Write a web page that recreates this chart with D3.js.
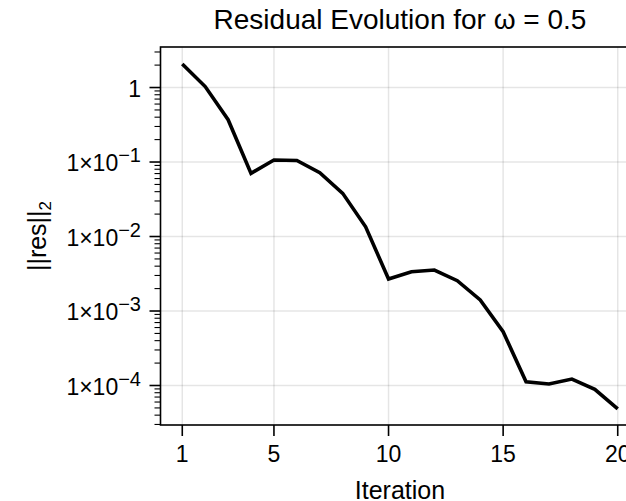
<!DOCTYPE html>
<html>
<head>
<meta charset="utf-8">
<script src="https://cdn.jsdelivr.net/npm/d3@7"></script>
<style>
html,body{margin:0;padding:0;background:#fff;}
svg{display:block;font-family:"Liberation Sans",Arial,Helvetica,sans-serif;}
</style>
</head>
<body>
<svg id="chart" width="626" height="501"></svg>
<script>
const iterations = [1,2,3,4,5,6,7,8,9,10,11,12,13,14,15,16,17,18,19,20];
const residuals = [2.07,1.03,0.37,0.0705,0.1064,0.105,0.0718,0.038,0.0135,0.00269,0.00337,0.00355,0.00255,0.00141,0.000527,0.0001125,0.0001047,0.0001222,0.0000889,0.0000484];
const xTicks = [1,5,10,15,20];
const yTicks = [1,1e-1,1e-2,1e-3,1e-4];
const yTickExps = [0,-1,-2,-3,-4];
const titleText = "Residual Evolution for ω = 0.5";
const xLabel = "Iteration";

const svg = d3.select("#chart");
const L = 160.5, R = 639.5, T = 47, B = 425;
const x = d3.scaleLinear().domain([0.05, 20.95]).range([L, R]);
const y = d3.scaleLog().domain([2.95e-5, 3.5]).range([B, T]);

// grid
const grid = svg.append("g");
grid.selectAll(".gx").data(xTicks).join("line")
  .attr("x1", d => x(d)).attr("x2", d => x(d)).attr("y1", T).attr("y2", B)
  .attr("stroke", "#000").attr("stroke-opacity", 0.1).attr("stroke-width", 1.5);
grid.selectAll(".gy").data(yTicks).join("line")
  .attr("y1", d => y(d)).attr("y2", d => y(d)).attr("x1", L).attr("x2", R)
  .attr("stroke", "#000").attr("stroke-opacity", 0.1).attr("stroke-width", 1.5);

// line
const line = d3.line().x((d,i) => x(iterations[i])).y(d => y(d));
svg.append("path").datum(residuals).attr("d", line)
  .attr("fill", "none").attr("stroke", "#000").attr("stroke-width", 3.6)
  .attr("stroke-linejoin", "miter");

// spines
svg.append("rect").attr("x", L).attr("y", T).attr("width", R - L).attr("height", B - T)
  .attr("fill", "none").attr("stroke", "#000").attr("stroke-width", 1.6);

// x axis ticks
const xa = svg.append("g");
xa.selectAll("line").data(xTicks).join("line")
  .attr("x1", d => x(d)).attr("x2", d => x(d)).attr("y1", B).attr("y2", B + 11)
  .attr("stroke", "#000").attr("stroke-width", 1.6);
xa.selectAll("text").data(xTicks).join("text")
  .attr("x", d => x(d)).attr("y", B + 37).attr("text-anchor", "middle")
  .attr("font-size", 23).text(d => d);

// y axis ticks
const ya = svg.append("g");
ya.selectAll("line.major").data(yTicks).join("line").attr("class","major")
  .attr("y1", d => y(d)).attr("y2", d => y(d)).attr("x1", L - 11).attr("x2", L)
  .attr("stroke", "#000").attr("stroke-width", 1.6);
const minor = [];
for (let e = -5; e <= 0; e++) for (let m = 2; m <= 9; m++) {
  const v = m * Math.pow(10, e);
  if (v >= y.domain()[0] && v <= y.domain()[1]) minor.push(v);
}
ya.selectAll("line.minor").data(minor).join("line").attr("class","minor")
  .attr("y1", d => y(d)).attr("y2", d => y(d)).attr("x1", L - 6).attr("x2", L)
  .attr("stroke", "#000").attr("stroke-width", 1.1);
const yl = ya.selectAll("text").data(yTicks).join("text")
  .attr("x", 141).attr("y", d => y(d) + 9).attr("text-anchor", "end")
  .attr("font-size", 23);
yl.each(function(d, i) {
  const t = d3.select(this);
  const e = yTickExps[i];
  if (e === 0) { t.text("1"); return; }
  t.append("tspan").text("1×10");
  t.append("tspan").attr("font-size", 20).attr("dy", -9).text("−" + Math.abs(e));
});

// title
svg.append("text").attr("x", (L + R) / 2).attr("y", 29).attr("text-anchor", "middle")
  .attr("font-size", 28).text(titleText);

// x label
svg.append("text").attr("x", (L + R) / 2).attr("y", 499).attr("text-anchor", "middle")
  .attr("font-size", 25).text(xLabel);

// y label
const ylab = svg.append("text").attr("transform", `translate(46,${(T + B) / 2}) rotate(-90)`)
  .attr("text-anchor", "middle").attr("font-size", 25);
ylab.append("tspan").text("||res||");
ylab.append("tspan").attr("font-size", 17).attr("dy", 5).text("2");
</script>
</body>
</html>
